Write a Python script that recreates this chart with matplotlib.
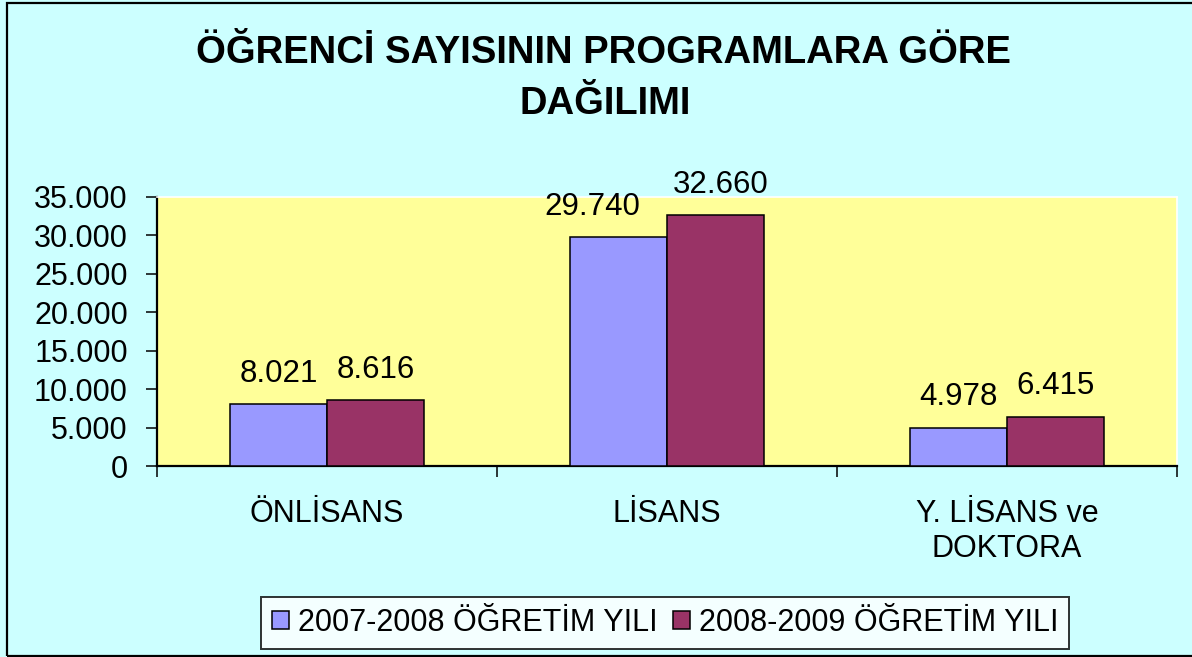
import matplotlib.pyplot as plt
from matplotlib.patches import Rectangle
from matplotlib.ticker import FuncFormatter
import numpy as np

categories = ["ÖNLİSANS", "LİSANS", "Y. LİSANS ve\nDOKTORA"]
series_names = ["2007-2008 ÖĞRETİM YILI", "2008-2009 ÖĞRETİM YILI"]
values_2007 = [8021, 29740, 4978]
values_2008 = [8616, 32660, 6415]
colors = ["#9999FF", "#993366"]

plt.rcParams["font.family"] = ["Liberation Sans", "DejaVu Sans"]

fig = plt.figure(figsize=(11.92, 6.57), dpi=100)
fig.patch.set_facecolor("#CCFFFF")

# frame round the chart (right edge runs off the picture)
fig.patches.append(Rectangle((7 / 1192, 1 / 657), 1.2, 1 - 3.5 / 657,
                             transform=fig.transFigure, fill=False,
                             edgecolor="black", linewidth=1.6, zorder=0))

ax = fig.add_axes([157 / 1192, 1 - 466 / 657, 1020 / 1192, 269 / 657])
ax.set_facecolor("#FFFF99")

x = np.arange(len(categories))
w = 0.285
b1 = ax.bar(x - w / 2, values_2007, w, color=colors[0], edgecolor="black",
            linewidth=1.1, label=series_names[0], zorder=3)
b2 = ax.bar(x + w / 2, values_2008, w, color=colors[1], edgecolor="black",
            linewidth=1.1, label=series_names[1], zorder=3)


def dotted(v, pos=None):
    return f"{int(v):,}".replace(",", ".")


# Excel nudged the LİSANS labels apart so they do not collide
nudge = {(0, 1): -19, (1, 1): 4}
for si, bars in enumerate((b1, b2)):
    for ci, r in enumerate(bars):
        ax.annotate(dotted(r.get_height()),
                    (r.get_x() + r.get_width() / 2, r.get_height()),
                    xytext=(nudge.get((si, ci), 0), 11),
                    textcoords="offset points",
                    ha="center", va="bottom", fontsize=22.5)

ax.set_xlim(-0.5, 2.5)
ax.set_ylim(0, 35000)
ax.set_yticks(np.arange(0, 35001, 5000))
ax.yaxis.set_major_formatter(FuncFormatter(dotted))
ax.tick_params(axis="y", direction="out", length=8, width=1.1,
               labelsize=22, pad=13)

# category labels centred, ticks at category boundaries
ax.set_xticks(x)
ax.set_xticklabels(categories, fontsize=22)
ax.tick_params(axis="x", which="major", length=0, pad=24)
ax.set_xticks([-0.5, 0.5, 1.5, 2.5], minor=True)
ax.tick_params(axis="x", which="minor", direction="out", length=8, width=1.1)

for s in ("left", "bottom"):
    ax.spines[s].set_linewidth(1.6)
for s in ("top", "right"):
    ax.spines[s].set_color("white")
    ax.spines[s].set_linewidth(1.2)

fig.text(603 / 1192, 1 - 63 / 657, "ÖĞRENCİ SAYISININ PROGRAMLARA GÖRE",
         ha="center", va="baseline", fontsize=27.5, fontweight="bold")
fig.text(605 / 1192, 1 - 114 / 657, "DAĞILIMI",
         ha="center", va="baseline", fontsize=27.5, fontweight="bold")

leg = fig.legend(loc="center", bbox_to_anchor=(665 / 1192, 1 - 623 / 657),
                 ncol=2, frameon=True, fancybox=False,
                 handlelength=0.55, handleheight=0.55, handletextpad=0.3,
                 columnspacing=0.5, borderpad=0.35, borderaxespad=0,
                 prop={"size": 22})
leg.get_frame().set_edgecolor("black")
leg.get_frame().set_linewidth(1.4)
leg.get_frame().set_facecolor("white")

fig.savefig("out.png", dpi=100, facecolor=fig.get_facecolor())
